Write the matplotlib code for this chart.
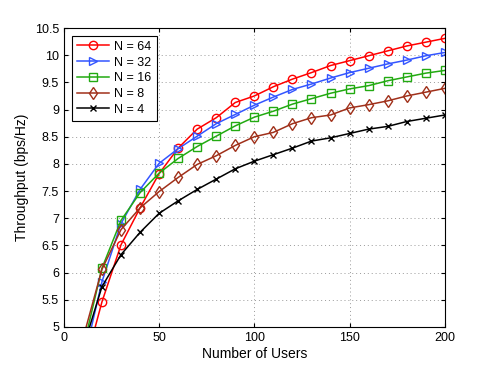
import matplotlib
matplotlib.use("Agg")
import matplotlib.pyplot as plt
import numpy as np

plt.rcParams["font.family"] = ["Liberation Sans", "DejaVu Sans"]

users = [10, 20, 30, 40, 50, 60, 70, 80, 90, 100, 110, 120, 130, 140, 150,
         160, 170, 180, 190, 200]

# throughput (bps/Hz) per antenna count
n64 = [4.15, 5.46, 6.51, 7.19, 7.82, 8.29, 8.64, 8.85, 9.13, 9.25, 9.42, 9.56,
       9.68, 9.81, 9.90, 9.99, 10.08, 10.17, 10.24, 10.31]
n32 = [4.32, 5.83, 6.90, 7.53, 8.01, 8.28, 8.51, 8.74, 8.91, 9.08, 9.23, 9.37,
       9.47, 9.58, 9.68, 9.76, 9.84, 9.91, 9.99, 10.05]
n16 = [4.59, 6.08, 6.96, 7.47, 7.83, 8.10, 8.32, 8.51, 8.70, 8.86, 8.97, 9.10,
       9.20, 9.30, 9.38, 9.44, 9.53, 9.60, 9.67, 9.72]
n8 = [4.78, 6.06, 6.79, 7.19, 7.49, 7.75, 7.99, 8.15, 8.34, 8.50, 8.58, 8.74,
      8.85, 8.90, 9.03, 9.09, 9.16, 9.25, 9.32, 9.39]
n4 = [4.60, 5.74, 6.33, 6.74, 7.09, 7.32, 7.53, 7.72, 7.91, 8.05, 8.17, 8.29,
      8.42, 8.48, 8.56, 8.64, 8.69, 8.78, 8.84, 8.90]

series = [
    ("N = 64", n64, "#ff0000", "o"),
    ("N = 32", n32, "#3355ff", ">"),
    ("N = 16", n16, "#22aa11", "s"),
    ("N = 8", n8, "#a0301a", "d"),
    ("N = 4", n4, "#000000", "x"),
]

fig = plt.figure(figsize=(4.91, 3.69), dpi=100)
ax = fig.add_axes([0.130, 0.114, 0.776, 0.810])

for label, vals, col, mk in series:
    ax.plot(users, vals, color=col, marker=mk, markersize=6 if mk != "x" else 4.5,
            markerfacecolor="none", markeredgecolor=col, markeredgewidth=1.0,
            linewidth=1.1, label=label)

ax.set_xlim(0, 200)
ax.set_ylim(5, 10.5)
ax.set_xticks(np.arange(0, 201, 50))
ax.set_yticks(np.arange(5, 10.51, 0.5))
ax.set_yticklabels(["5", "5.5", "6", "6.5", "7", "7.5", "8", "8.5", "9",
                    "9.5", "10", "10.5"])
ax.grid(True, linestyle=(0, (1, 3)), color="#999999", linewidth=0.7)
ax.tick_params(direction="in", labelsize=9, length=3, top=True, right=True)
for sp in ax.spines.values():
    sp.set_linewidth(0.8)

ax.set_xlabel("Number of Users", fontsize=10, labelpad=2)
ax.set_ylabel("Throughput (bps/Hz)", fontsize=10, labelpad=4)

leg = ax.legend(loc="upper left", fontsize=9, fancybox=False, framealpha=1,
                edgecolor="black", handlelength=2.6, borderpad=0.4,
                labelspacing=0.3, handletextpad=0.4,
                bbox_to_anchor=(0.005, 0.995))
leg.get_frame().set_linewidth(0.8)

fig.savefig("out.png", dpi=100)
